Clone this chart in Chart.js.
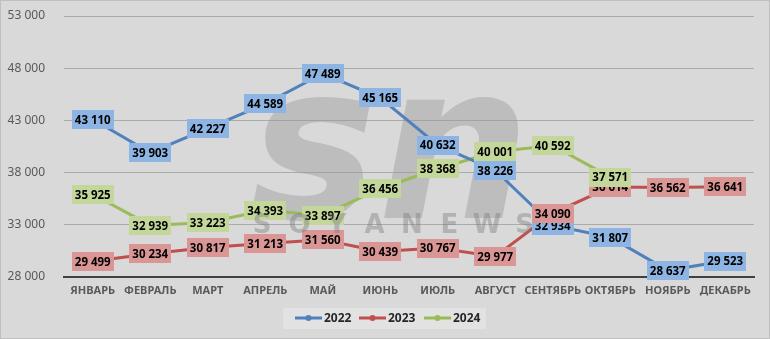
<!DOCTYPE html>
<html>
<head>
<meta charset="utf-8">
<script src="https://cdn.jsdelivr.net/npm/chart.js@4.4.1/dist/chart.umd.min.js"></script>
<style>
  html, body { margin: 0; padding: 0; background: #d9d9d9; }
  #wrap { width: 770px; height: 339px; position: relative; }
</style>
</head>
<body>
<div id="wrap"><canvas id="c" width="770" height="339"></canvas></div>
<script>
const months = ["ЯНВАРЬ", "ФЕВРАЛЬ", "МАРТ", "АПРЕЛЬ", "МАЙ", "ИЮНЬ", "ИЮЛЬ", "АВГУСТ", "СЕНТЯБРЬ", "ОКТЯБРЬ", "НОЯБРЬ", "ДЕКАБРЬ"];
const y2022 = [43110, 39903, 42227, 44589, 47489, 45165, 40632, 38226, 32934, 31807, 28637, 29523];
const y2023 = [29499, 30234, 30817, 31213, 31560, 30439, 30767, 29977, 34090, 36614, 36562, 36641];
const y2024 = [35925, 32939, 33223, 34393, 33897, 36456, 38368, 40001, 40592, 37571, null, null];
const yTicks = [28000, 33000, 38000, 43000, 48000, 53000];

const fmt = v => String(v).replace(/\B(?=(\d{3})+(?!\d))/g, " ");

const series = [
  { label: "2022", data: y2022, line: "#4f81bd", box: "#8db4e2" },
  { label: "2023", data: y2023, line: "#c0504d", box: "#da9694" },
  { label: "2024", data: y2024, line: "#9bbb59", box: "#c4d79b" }
];

// background, border, watermark
const backdrop = {
  id: "backdrop",
  beforeDraw(chart) {
    const ctx = chart.ctx;
    ctx.save();
    ctx.fillStyle = "#d9d9d9";
    ctx.fillRect(0, 0, chart.width, chart.height);
    ctx.restore();
  },
  beforeDatasetsDraw(chart) {
    const ctx = chart.ctx;
    ctx.save();
    ctx.fillStyle = "rgba(150,150,150,0.42)";
    ctx.font = "italic bold 215px 'DejaVu Sans'";
    ctx.textAlign = "center";
    ctx.textBaseline = "alphabetic";
    ctx.fillText("sn", 390, 218);
    ctx.restore();
  },
  afterDraw(chart) {
    const ctx = chart.ctx;
    ctx.save();
    ctx.fillStyle = "rgba(120,120,120,0.4)";
    ctx.font = "bold 26px 'DejaVu Sans'";
    ctx.textAlign = "center";
    ctx.textBaseline = "middle";
    const word = "SOYANEWS".split("");
    word.forEach((ch, i) => ctx.fillText(ch, 262 + i * 37.5, 226));
    ctx.strokeStyle = "#bfbfbf";
    ctx.lineWidth = 1;
    ctx.strokeRect(0.5, 0.5, chart.width - 1, chart.height - 1);
    ctx.restore();
  }
};

// boxed value labels
const boxLabels = {
  id: "boxLabels",
  afterDatasetsDraw(chart) {
    const ctx = chart.ctx;
    ctx.save();
    ctx.font = "bold 11.5px 'Noto Sans'";
    ctx.textAlign = "center";
    ctx.textBaseline = "middle";
    chart.data.datasets.forEach((ds, i) => {
      const meta = chart.getDatasetMeta(i);
      meta.data.forEach((pt, j) => {
        const v = ds.data[j];
        if (v == null) return;
        const txt = fmt(v);
        const w = ctx.measureText(txt).width + 6;
        const h = 19;
        ctx.fillStyle = series[i].box;
        ctx.fillRect(Math.round(pt.x - w / 2), Math.round(pt.y - h / 2), Math.round(w), h);
        ctx.fillStyle = "#000";
        ctx.fillText(txt, pt.x, pt.y + 1);
      });
    });
    ctx.restore();
  }
};

// legend drawn like the spreadsheet one
const legendBox = {
  id: "legendBox",
  afterDraw(chart) {
    const ctx = chart.ctx;
    ctx.save();
    ctx.fillStyle = "#e2e2e2";
    ctx.fillRect(283, 308, 203, 21);
    ctx.font = "bold 12px 'Noto Sans'";
    ctx.textBaseline = "middle";
    ctx.textAlign = "left";
    const xs = [295, 359, 424];
    series.forEach((s, i) => {
      const x = xs[i], y = 318;
      ctx.strokeStyle = s.line;
      ctx.lineWidth = 3;
      ctx.beginPath();
      ctx.moveTo(x, y);
      ctx.lineTo(x + 27, y);
      ctx.stroke();
      ctx.fillStyle = s.line;
      ctx.beginPath();
      ctx.arc(x + 13.5, y, 3, 0, Math.PI * 2);
      ctx.fill();
      ctx.fillStyle = "#262626";
      ctx.fillText(s.label, x + 29, y + 1);
    });
    ctx.restore();
  }
};

new Chart(document.getElementById("c"), {
  type: "line",
  data: {
    labels: months,
    datasets: series.map(s => ({
      label: s.label,
      data: s.data,
      borderColor: s.line,
      backgroundColor: s.line,
      borderWidth: 3,
      pointRadius: 9,
      pointBorderWidth: 0,
      pointBackgroundColor: s.line,
      tension: 0,
      spanGaps: false
    }))
  },
  options: {
    responsive: false,
    animation: false,
    events: [],
    layout: { autoPadding: false, padding: { left: 0, right: 16, top: 16, bottom: 0 } },
    plugins: { legend: { display: false }, tooltip: { enabled: false } },
    scales: {
      x: {
        offset: true,
        grid: { display: false, drawTicks: false },
        border: { color: "#404040", width: 2 },
        ticks: { color: "#595959", font: { family: "'Noto Sans'", size: 11, weight: "bold" }, padding: 7, maxRotation: 0, autoSkip: false },
        afterFit(s) { s.height = 62; s.paddingLeft = 0; s.paddingRight = 0; }
      },
      y: {
        min: 28000,
        max: 53000,
        afterBuildTicks(s) { s.ticks = yTicks.map(v => ({ value: v })); },
        grid: { color: "#ababab", drawTicks: false, lineWidth: 1 },
        border: { display: false },
        ticks: { color: "#595959", font: { family: "'Noto Sans'", size: 12 }, padding: 19, callback: v => fmt(v) },
        afterFit(s) { s.width = 64; s.paddingTop = 0; s.paddingBottom = 0; }
      }
    }
  },
  plugins: [backdrop, boxLabels, legendBox]
});
</script>
</body>
</html>
